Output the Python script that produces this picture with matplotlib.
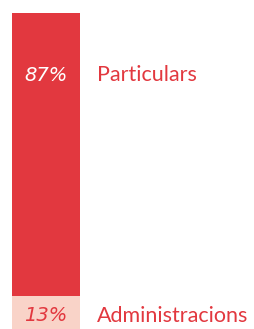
import matplotlib.pyplot as plt

categories = ['Administracions', 'Particulars']
values = [13, 87]
pct_labels = ['13%', '87%']
colors = ['#f9d3c8', '#e2383f']

red = '#e2383f'

fig = plt.figure(figsize=(2.54, 3.29), dpi=100)
# bar runs past the bottom edge, like the original
ax = fig.add_axes([12 / 254, -9 / 329, 68 / 254, 325 / 329])
ax.set_xlim(0, 1)
ax.set_ylim(0, 100)
ax.axis('off')

bottom = 0
for cat, v, c in zip(categories, values, colors):
    ax.bar(0.5, v, width=1, bottom=bottom, color=c, linewidth=0)
    bottom += v

# label placement (data units)
label_y = [6.8, 80.9]
pct_colors = [red, 'white']
for cat, lab, y, pc in zip(categories, pct_labels, label_y, pct_colors):
    ax.text(0.5, y, lab, ha='center', va='center', color=pc,
            fontsize=14, style='italic', family='DejaVu Sans')
    ax.text(1.25, y, cat, ha='left', va='center', color=red,
            fontsize=15.5, family='Lato', clip_on=False)

fig.savefig('out.png', dpi=100)
